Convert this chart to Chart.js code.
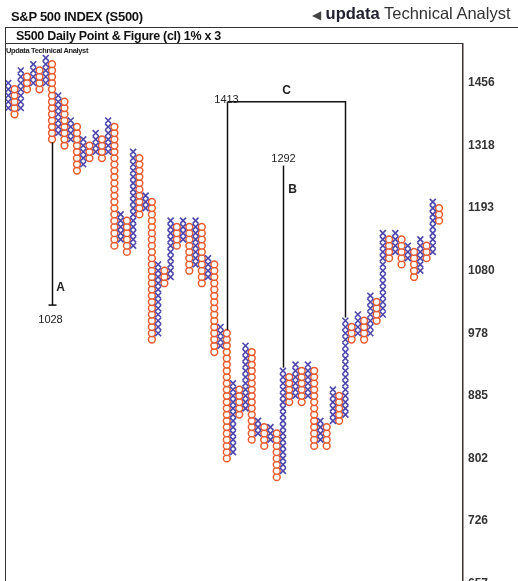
<!DOCTYPE html>
<html>
<head>
<meta charset="utf-8">
<script src="https://cdn.jsdelivr.net/npm/chart.js@4.4.1/dist/chart.umd.min.js"></script>
<style>
  html, body { margin: 0; padding: 0; background: #fff; overflow: hidden; width: 518px; height: 581px; }
  body { position: relative; font-family: "Liberation Sans", Arial, sans-serif; }
  #c { position: absolute; left: 0; top: 0; }
  .hdr { position: absolute; left: 11px; top: 9px; font-weight: bold; font-size: 13px; color: #111; letter-spacing: -0.3px; }
  .brand { position: absolute; left: 312px; top: 4px; font-size: 16.5px; color: #333; white-space: nowrap; }
  .brand b { color: #222230; font-weight: bold; }
  .brand .tri { font-size: 12px; color: #444; }
  .topline { position: absolute; left: 5px; top: 27px; width: 513px; border-top: 1px solid #333; }
  .titlebox { position: absolute; left: 5px; top: 27px; width: 457px; height: 16px; border-left: 1px solid #333; border-bottom: 1px solid #333; }
  .title { position: absolute; left: 16px; top: 29px; font-weight: bold; font-size: 12.5px; color: #111; letter-spacing: -0.3px; }
  .sub { position: absolute; left: 6px; top: 46px; font-size: 7.5px; font-weight: bold; color: #222; letter-spacing: -0.35px; }
  .leftline { position: absolute; left: 5px; top: 27px; height: 560px; border-left: 1px solid #333; }
</style>
</head>
<body>
<canvas id="c" width="518" height="620"></canvas>
<div class="hdr">S&amp;P 500 INDEX (S500)</div>
<div class="brand"><span class="tri">&#9664;</span> <b>updata</b> Technical Analyst</div>
<div class="topline"></div>
<div class="titlebox"></div>
<div class="leftline"></div>
<div class="title">S500 Daily Point &amp; Figure (cl) 1% x 3</div>
<div class="sub">Updata Technical Analyst</div>
<script>
// one entry per column, left to right; levels are box numbers (1% boxes, 0 = 657)
const colTypes = ['X','O','X','O','X','O','X','O','X','O','X','O','X','O','X','O','X','O','X','O',
                  'X','O','X','O','X','O','X','O','X','O','X','O','X','O','X','O','X','O','X','O',
                  'X','O','X','O','X','O','X','O','X','O','X','O','X','O','X','O','X','O','X','O',
                  'X','O','X','O','X','O','X','O','X','O'];
const colLow  = [76,75,76,79,80,79,80,71,72,70,71,66,67,68,69,68,69,54,55,53,
                 54,59,60,39,40,48,49,54,55,50,51,48,49,37,38,20,21,27,28,23,
                 24,22,23,17,18,29,30,29,30,22,23,22,26,26,27,39,40,39,40,42,
                 43,52,53,51,52,49,50,52,53,58];
const colHigh = [80,79,82,81,83,82,84,83,78,77,74,73,71,70,72,71,74,73,59,58,
                 69,68,62,61,51,50,58,57,58,57,58,57,52,51,41,40,32,31,38,37,
                 26,25,25,24,34,33,35,34,35,34,26,25,31,30,42,41,43,42,46,45,
                 56,55,56,55,54,53,55,54,61,60];

const tickBoxes  = [0, 10, 20, 30, 40, 50, 60, 70, 80];
const tickLabels = ['657','726','802','885','978','1080','1193','1318','1456'];

// count lines: column, from box, to box
const countLines = [
  { name: 'A', col: 7,  top: 70.5, bottom: 44.5, value: '1028' },
  { name: 'B', col: 44, top: 66.8, bottom: 34.5, value: '1292' },
  { name: 'C', col: 35, col2: 54, top: 77, bottom: 40.5, bottom2: 42.5, value: '1413' }
];

const xPts = [], oPts = [];
colTypes.forEach((t, i) => {
  for (let k = colLow[i]; k <= colHigh[i]; k++) {
    (t === 'X' ? xPts : oPts).push({ x: i, y: k });
  }
});

const countPlugin = {
  id: 'counts',
  afterDatasetsDraw(chart) {
    const ctx = chart.ctx;
    const xs = chart.scales.x, ys = chart.scales.y;
    ctx.save();
    ctx.strokeStyle = '#111';
    ctx.lineWidth = 1.5;
    ctx.fillStyle = '#222';
    countLines.forEach(l => {
      const x = Math.round(xs.getPixelForValue(l.col)) + 0.5;
      const yt = ys.getPixelForValue(l.top);
      const yb = ys.getPixelForValue(l.bottom);
      ctx.beginPath();
      ctx.moveTo(x, yt);
      ctx.lineTo(x, yb);
      ctx.stroke();
      ctx.textAlign = 'center';
      if (l.name === 'A') {
        ctx.beginPath();
        ctx.moveTo(x - 4, yb); ctx.lineTo(x + 4, yb); ctx.stroke();
        ctx.font = '11px "Liberation Sans", Arial';
        ctx.textBaseline = 'top';
        ctx.fillText(l.value, x - 2, yb + 9);
        ctx.font = 'bold 12px "Liberation Sans", Arial';
        ctx.textBaseline = 'middle';
        ctx.fillText(l.name, x + 8, yb - 17);
      } else if (l.name === 'B') {
        ctx.font = '11px "Liberation Sans", Arial';
        ctx.textBaseline = 'bottom';
        ctx.fillText(l.value, x, yt - 1);
        ctx.font = 'bold 12px "Liberation Sans", Arial';
        ctx.textBaseline = 'middle';
        ctx.fillText(l.name, x + 9, ys.getPixelForValue(62.9));
      } else {
        const x2 = Math.round(xs.getPixelForValue(l.col2)) + 0.5;
        const yb2 = ys.getPixelForValue(l.bottom2);
        ctx.beginPath();
        ctx.moveTo(x, yt); ctx.lineTo(x2, yt); ctx.lineTo(x2, yb2);
        ctx.stroke();
        ctx.font = '11px "Liberation Sans", Arial';
        ctx.textBaseline = 'bottom';
        ctx.fillText(l.value, x - 1, yt + 4);
        ctx.font = 'bold 12px "Liberation Sans", Arial';
        ctx.textBaseline = 'middle';
        ctx.fillText(l.name, (x + x2) / 2, yt - 11);
      }
    });
    ctx.restore();
  }
};

new Chart(document.getElementById('c'), {
  type: 'scatter',
  data: {
    datasets: [
      {
        label: 'X',
        data: xPts,
        pointStyle: 'crossRot',
        pointRadius: 4.2,
        borderColor: '#4c46ac',
        borderWidth: 1.6
      },
      {
        label: 'O',
        data: oPts,
        pointStyle: 'circle',
        pointRadius: 3.4,
        borderColor: '#ea5a2c',
        backgroundColor: 'rgba(255,255,255,0.9)',
        borderWidth: 1.5
      }
    ]
  },
  options: {
    responsive: false,
    animation: false,
    devicePixelRatio: 1,
    layout: { padding: { left: 5, top: 44, right: 0, bottom: 20 } },
    plugins: { legend: { display: false }, tooltip: { enabled: false } },
    scales: {
      x: { type: 'linear', min: -0.4, max: 72.84, display: false },
      y: {
        type: 'linear',
        position: 'right',
        min: -2.63,
        max: 86.23,
        grid: { display: false, drawTicks: false },
        border: { display: true, color: '#3a3030', width: 1.5 },
        afterBuildTicks: (scale) => { scale.ticks = tickBoxes.map(v => ({ value: v })); },
        afterFit: (scale) => { scale.width = 55; },
        ticks: {
          padding: 5,
          color: '#333',
          font: { family: '"Liberation Sans", Arial', size: 12, weight: 'bold' },
          callback: (v) => tickLabels[tickBoxes.indexOf(v)]
        }
      }
    }
  },
  plugins: [countPlugin]
});
</script>
</body>
</html>
